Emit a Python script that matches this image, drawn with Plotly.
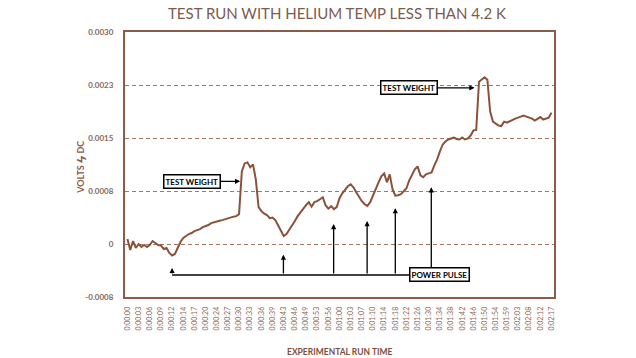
import plotly.graph_objects as go

# ---- data ----
time_labels = ["0:00:00","0:00:03","0:00:06","0:00:09","0:00:12","0:00:14","0:00:17","0:00:20",
               "0:00:24","0:00:27","0:00:30","0:00:33","0:00:36","0:00:39","0:00:43","0:00:46",
               "0:00:49","0:00:53","0:00:56","0:01:00","0:01:03","0:01:07","0:01:10","0:01:14",
               "0:01:18","0:01:22","0:01:26","0:01:30","0:01:34","0:01:38","0:01:42","0:01:46",
               "0:01:50","0:01:54","0:01:59","0:02:03","0:02:08","0:02:12","0:02:17"]
samples_per_label = 4

# volts DC, in units of 1e-4 V (converted below)
volts_e4 = [
    0.70,-0.85,0.42,-0.56,0.00,-0.42,-0.14,-0.42,-0.14,0.42,
    0.14,-0.14,-0.21,-0.70,-0.56,-1.27,-1.62,-1.41,-0.56,0.28,
    0.85,1.13,1.41,1.55,1.83,1.97,2.11,2.39,2.54,2.68,
    2.96,3.10,3.17,3.28,3.38,3.52,3.62,3.73,3.87,3.94,
    4.23,10.28,11.40,11.55,10.85,11.27,9.15,5.21,4.65,4.30,
    4.08,3.66,3.73,3.38,2.68,1.83,1.13,1.41,1.97,2.54,
    3.24,3.94,4.51,4.93,5.49,5.92,5.28,5.92,6.06,6.34,
    6.62,5.49,5.00,5.35,4.93,5.21,6.48,7.18,7.75,8.17,
    8.45,8.03,7.32,6.62,6.06,5.63,5.39,5.92,6.90,8.03,
    8.73,9.58,10.00,8.73,9.86,7.75,6.83,6.90,7.04,7.46,
    7.89,9.01,9.86,10.56,10.99,9.72,9.44,9.86,10.00,10.14,
    11.13,11.97,13.10,14.08,14.50,14.79,14.93,15.07,14.86,14.79,
    15.07,14.79,14.93,15.35,16.06,16.13,22.96,23.24,23.59,23.24,
    18.73,17.32,16.97,16.76,16.69,17.32,17.18,17.39,17.61,17.75,
    17.89,18.03,18.17,18.03,17.89,17.75,17.46,17.75,17.96,17.61,
    17.75,17.89,18.59]

y_tick_vals = [-0.00075, 0, 0.00075, 0.0015, 0.00225, 0.003]
y_tick_text = ["-0.0008", "0", "0.0008", "0.0015", "0.0023", "0.0030"]

# annotation anchors (sample index, volts)
weight1_tip = (40.4, 8.87e-4)
weight2_tip = (124.4, 22.1e-4)
pulse_base = -4.37e-4
pulse_box_top = -3.66e-4
pulse_idx = [16.0, 55.9, 73.9, 85.9, 96.0]
pulse_top = [-3.38e-4, -1.51e-4, 2.82e-4, 3.24e-4, 5.07e-4]
pulse_box = (111.8, -4.37e-4)
pulse_box_arrow = (108.9, 8.03e-4)
pulse_line_end = 101.0

# ---- build ----
volts = [v * 1e-4 for v in volts_e4]
idx = list(range(len(volts)))
tick_idx = [j * samples_per_label for j in range(len(time_labels))]

BROWN_LINE = "rgb(139,82,58)"
BROWN_AX = "rgb(140,92,72)"
BROWN_GRID = "rgb(165,118,98)"
BROWN_TXT = "rgb(140,102,86)"
FONT = "Lato"

fig = go.Figure()
fig.add_trace(go.Scatter(x=idx, y=volts, mode="lines",
                         line=dict(color=BROWN_LINE, width=2), hoverinfo="skip"))

last = tick_idx[-1]
pad = 0.22 * samples_per_label
fig.update_layout(
    width=636, height=358,
    margin=dict(l=125, r=82, t=32, b=61, autoexpand=False),
    paper_bgcolor="white", plot_bgcolor="white",
    showlegend=False,
    title=dict(text="TEST RUN WITH HELIUM TEMP LESS THAN 4.2 K",
               x=337/636, xanchor="center", y=1-14/358, yanchor="middle",
               font=dict(family=FONT, size=15, color="rgb(122,92,80)")),
    xaxis=dict(range=[-pad, last + pad], tickvals=tick_idx, ticktext=time_labels,
               tickangle=-90, showgrid=False, zeroline=False, automargin=False,
               showline=True, mirror=True, linecolor=BROWN_AX, linewidth=2,
               ticks="", ticklabelstandoff=5,
               tickfont=dict(family=FONT, size=7, color=BROWN_TXT)),
    yaxis=dict(range=[-0.00075, 0.003], tickvals=y_tick_vals, ticktext=y_tick_text,
               showgrid=True, gridcolor=BROWN_GRID, gridwidth=1, griddash="4px,3px",
               zeroline=False, showline=True, mirror=True, linecolor=BROWN_AX, linewidth=2,
               ticks="", ticklabelstandoff=8, automargin=False,
               tickfont=dict(family=FONT, size=8, color=BROWN_TXT, weight="bold")),
)

box_font = dict(family=FONT, size=8, color="black", weight="bold")
ann = []
ann.append(dict(x=weight1_tip[0], y=weight1_tip[1], xref="x", yref="y",
                text="TEST WEIGHT", showarrow=True, ax=-48, ay=0,
                arrowhead=2, arrowsize=0.8, arrowwidth=1.3, arrowcolor="black",
                font=box_font, bgcolor="white", bordercolor="black", borderwidth=1.5, borderpad=1))
ann.append(dict(x=weight2_tip[0], y=weight2_tip[1], xref="x", yref="y",
                text="TEST WEIGHT", showarrow=True, ax=-66, ay=0,
                arrowhead=2, arrowsize=0.8, arrowwidth=1.3, arrowcolor="black",
                font=box_font, bgcolor="white", bordercolor="black", borderwidth=1.5, borderpad=1))
for xi, yt in zip(pulse_idx, pulse_top):
    ann.append(dict(x=xi, y=yt, xref="x", yref="y", ax=xi, ay=pulse_base,
                    axref="x", ayref="y", text="", showarrow=True,
                    arrowhead=2, arrowsize=0.8, arrowwidth=1.3, arrowcolor="black"))
ann.append(dict(x=pulse_box_arrow[0], y=pulse_box_arrow[1], xref="x", yref="y",
                ax=pulse_box_arrow[0], ay=pulse_box_top, axref="x", ayref="y",
                text="", showarrow=True,
                arrowhead=2, arrowsize=0.8, arrowwidth=1.3, arrowcolor="black"))
ann.append(dict(x=pulse_box[0], y=pulse_box[1], xref="x", yref="y",
                text="POWER PULSE", showarrow=False,
                font=box_font, bgcolor="white", bordercolor="black", borderwidth=1.5, borderpad=1))
ann.append(dict(x=0.5, y=-(352-297)/264.5, xref="paper", yref="paper",
                text="EXPERIMENTAL RUN TIME", showarrow=False, yanchor="middle",
                font=dict(family=FONT, size=8.5, color="rgb(122,80,62)", weight="bold")))
ann.append(dict(x=-(125-79)/429, y=(297-168)/264.5, xref="paper", yref="paper",
                text="VOLTS <span style='font-size:14px'>ϟ</span> DC", textangle=-90, showarrow=False,
                xanchor="center", yanchor="middle",
                font=dict(family=FONT, size=9, color="rgb(140,92,72)", weight="bold")))
fig.update_layout(annotations=ann)
fig.add_shape(type="line", xref="x", yref="y",
              x0=pulse_idx[0], x1=pulse_line_end, y0=pulse_base, y1=pulse_base,
              line=dict(color="black", width=1.5))

fig.write_html("out.html", config={"displayModeBar": False},
               post_script="document.body.style.margin='0';document.body.style.overflow='hidden';")
